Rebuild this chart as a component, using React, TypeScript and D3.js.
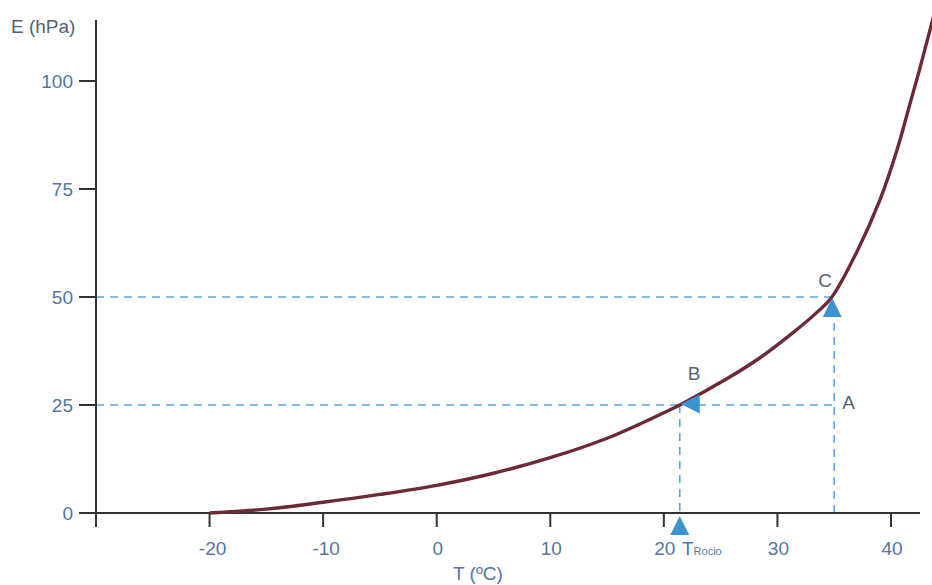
import * as d3 from "d3";
import { useEffect, useRef } from "react";

// saturation vapour pressure curve (T in ºC, E in hPa)
const curveT = [-20, -15, -10, -5, 0, 5, 10, 15, 20, 21.4, 25.5, 28.5, 31.4, 33.5, 34.8, 37, 39, 40.5, 41.7, 42.6, 43.4, 43.9];
const curveE = [0, 0.9, 2.5, 4.3, 6.4, 9.2, 12.8, 17.3, 23.2, 25, 31.0, 36.0, 41.8, 46.5, 50, 60.5, 72.3, 83.8, 95, 103.5, 111.5, 116.5];

const xTicks = [-20, -10, 0, 10, 20, 30, 40];
const yTicks = [0, 25, 50, 75, 100];

// points of the construction
const pointNames = ["A", "B", "C"];
const pointT = [35, 21.4, 35];
const pointE = [25, 25, 50];

const W = 932;
const H = 585;
const textColor = "#5676a0";
const axisColor = "#333";
const dashColor = "#5aa5dc";
const arrowColor = "#3a94d2";
const curveColor = "#6b2a35";

function SatCurve() {
	const ref = useRef<SVGSVGElement>(null);

	function draw() {
		const svg = d3.select(ref.current);
		svg.selectAll("*").remove();

		const x = d3.scaleLinear().domain([-30, 40]).range([96, 891]);
		const y = d3.scaleLinear().domain([0, 100]).range([513, 81]);
		const font = "'Liberation Sans', Arial, sans-serif";

		const A = { t: pointT[0], e: pointE[0] };
		const B = { t: pointT[1], e: pointE[1] };
		const C = { t: pointT[2], e: pointE[2] };

		// dashed helper lines
		const dash = svg.append("g")
			.attr("stroke", dashColor)
			.attr("stroke-width", 1.6)
			.attr("stroke-dasharray", "8,6")
			.attr("fill", "none");
		dash.append("line")
			.attr("x1", x(-30)).attr("x2", x(C.t))
			.attr("y1", y(C.e)).attr("y2", y(C.e));
		dash.append("line")
			.attr("x1", x(-30)).attr("x2", x(A.t))
			.attr("y1", y(A.e)).attr("y2", y(A.e));
		dash.append("line")
			.attr("x1", x(A.t)).attr("x2", x(A.t))
			.attr("y1", y(0)).attr("y2", y(C.e) + 18);
		dash.append("line")
			.attr("x1", x(B.t)).attr("x2", x(B.t))
			.attr("y1", y(B.e)).attr("y2", y(0));

		// axes
		const ax = svg.append("g").attr("stroke", axisColor).attr("stroke-width", 2);
		ax.append("line").attr("x1", x(-30)).attr("x2", x(-30)).attr("y1", 20).attr("y2", 527);
		ax.append("line").attr("x1", 80).attr("x2", 920).attr("y1", y(0)).attr("y2", y(0));
		ax.selectAll(".xt")
			.data(xTicks)
			.enter()
			.append("line")
			.attr("x1", (d) => x(d)).attr("x2", (d) => x(d))
			.attr("y1", y(0)).attr("y2", y(0) + 14);
		ax.selectAll(".yt")
			.data(yTicks)
			.enter()
			.append("line")
			.attr("x1", x(-30) - 17).attr("x2", x(-30))
			.attr("y1", (d) => y(d)).attr("y2", (d) => y(d));

		// tick labels
		svg.selectAll(".xl")
			.data(xTicks)
			.enter()
			.append("text")
			.attr("x", (d) => x(d) + (d < 0 ? 3 : 1))
			.attr("y", 555)
			.attr("text-anchor", "middle")
			.attr("font-family", font)
			.attr("font-size", 19)
			.attr("fill", textColor)
			.text((d) => d);
		svg.selectAll(".yl")
			.data(yTicks)
			.enter()
			.append("text")
			.attr("x", 73)
			.attr("y", (d) => y(d) + 7)
			.attr("text-anchor", "end")
			.attr("font-family", font)
			.attr("font-size", 19)
			.attr("fill", textColor)
			.text((d) => d);

		svg.append("text")
			.attr("x", 11).attr("y", 33)
			.attr("font-family", font).attr("font-size", 19)
			.attr("fill", "#5a5f6e")
			.text("E (hPa)");
		svg.append("text")
			.attr("x", 478).attr("y", 580)
			.attr("text-anchor", "middle")
			.attr("font-family", font).attr("font-size", 19)
			.attr("fill", textColor)
			.text("T (ºC)");

		const tr = svg.append("text")
			.attr("x", 682).attr("y", 555)
			.attr("font-family", font).attr("font-size", 19)
			.attr("fill", textColor);
		tr.append("tspan").text("T");
		tr.append("tspan").attr("font-size", 11).text("Rocio");

		// curve
		const line = d3.line<number>()
			.x((d, i) => x(curveT[i]))
			.y((d) => y(d))
			.curve(d3.curveCatmullRom.alpha(0.5));
		svg.append("path")
			.attr("d", line(curveE))
			.attr("fill", "none")
			.attr("stroke", curveColor)
			.attr("stroke-width", 3.4);

		// arrows
		const tri = (cx: number, cy: number, dir: string) => {
			const w = 9.5, h = 19;
			let pts: number[][];
			if (dir === "up") pts = [[cx, cy], [cx - w, cy + h], [cx + w, cy + h]];
			else pts = [[cx, cy], [cx + h, cy - w], [cx + h, cy + w]];
			svg.append("path")
				.attr("d", "M" + pts.map((p) => p.join(",")).join("L") + "Z")
				.attr("fill", arrowColor);
		};
		tri(x(C.t) - 2, y(C.e) + 1, "up");
		tri(x(B.t) + 1, y(B.e) - 1, "left");
		tri(x(B.t), y(0) + 3, "up");

		// point labels
		const labelPos = [
			[x(A.t) + 8, y(A.e) + 4],
			[x(B.t) + 8, y(B.e) - 25],
			[x(C.t) - 16, y(C.e) - 10],
		];
		svg.selectAll(".pl")
			.data(pointNames)
			.enter()
			.append("text")
			.attr("x", (d, i) => labelPos[i][0])
			.attr("y", (d, i) => labelPos[i][1])
			.attr("font-family", font)
			.attr("font-size", 19)
			.attr("fill", "#56637a")
			.text((d) => d);
	}

	useEffect(() => {
		draw();
	}, []);

	return (
		<svg
			ref={ref}
			width={W}
			height={H}
			style={{ position: "absolute", left: 0, top: 0, background: "#fff" }}
		/>
	);
}

export default function App() {
	return <SatCurve />;
}
